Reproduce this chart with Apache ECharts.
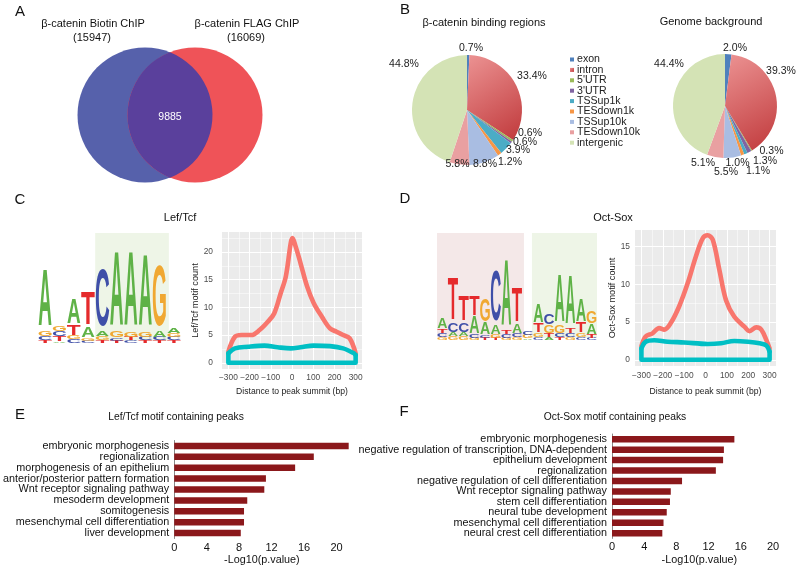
<!DOCTYPE html>
<html lang="en" style="height: 100%">
<head>
  <meta charset="utf-8">
  <style>
    body { margin: 0; background: #fff; }
  </style>
</head>
<body style="height: 100%; margin: 0">
  <div id="container" style="width: 800px; height: 570px"></div>

  <script type="text/javascript" src="https://cdn.jsdelivr.net/npm/echarts@6/dist/echarts.min.js"></script>
  <script type="text/javascript">
// ---- data ----
const vennNames = ['β-catenin Biotin ChIP', 'β-catenin FLAG ChIP'];
const vennCounts = [15947, 16069];
const vennOverlap = 9885;

const regionNames = ['exon', 'intron', "5'UTR", "3'UTR", 'TSSup1k', 'TESdown1k', 'TSSup10k', 'TESdown10k', 'intergenic'];
const bindingPct = [0.7, 33.4, 0.6, 0.6, 3.9, 1.2, 8.8, 5.8, 44.8];
const genomePct = [2.0, 39.3, 0.3, 1.3, 1.1, 1.0, 5.5, 5.1, 44.4];

// sequence logos, each column bottom -> top, heights in bits
const lefTcfLogo = [
  [['T', 0.04], ['C', 0.08], ['G', 0.1], ['A', 1.05]],
  [['A', 0.02], ['T', 0.1], ['C', 0.09], ['G', 0.09]],
  [['C', 0.06], ['G', 0.06], ['T', 0.2], ['A', 0.46]],
  [['C', 0.04], ['G', 0.05], ['A', 0.2], ['T', 0.6]],
  [['T', 0.04], ['G', 0.08], ['A', 0.1], ['C', 1.05]],
  [['T', 0.04], ['C', 0.05], ['G', 0.12], ['A', 1.36]],
  [['C', 0.04], ['T', 0.06], ['G', 0.1], ['A', 1.36]],
  [['T', 0.04], ['C', 0.06], ['G', 0.1], ['A', 1.31]],
  [['T', 0.04], ['C', 0.06], ['A', 0.12], ['G', 1.12]],
  [['T', 0.04], ['C', 0.06], ['G', 0.08], ['A', 0.1]]
];
const octSoxLogo = [
  [['G', 0.05], ['C', 0.08], ['T', 0.08], ['A', 0.2]],
  [['G', 0.06], ['A', 0.08], ['C', 0.18], ['T', 0.8]],
  [['G', 0.06], ['A', 0.08], ['C', 0.18], ['T', 0.47]],
  [['G', 0.04], ['C', 0.06], ['A', 0.32], ['T', 0.38]],
  [['T', 0.04], ['C', 0.05], ['A', 0.22], ['G', 0.42]],
  [['T', 0.04], ['G', 0.06], ['A', 0.18], ['C', 0.95]],
  [['G', 0.04], ['C', 0.06], ['T', 0.08], ['A', 1.25]],
  [['G', 0.04], ['C', 0.07], ['A', 0.18], ['T', 0.65]],
  [['A', 0.03], ['G', 0.06], ['C', 0.08]],
  [['C', 0.05], ['G', 0.08], ['T', 0.18], ['A', 0.35]],
  [['A', 0.04], ['T', 0.08], ['G', 0.15], ['C', 0.2]],
  [['T', 0.04], ['C', 0.08], ['G', 0.14], ['A', 0.9]],
  [['G', 0.04], ['C', 0.08], ['T', 0.1], ['A', 0.93]],
  [['C', 0.05], ['G', 0.08], ['T', 0.19], ['A', 0.42]],
  [['C', 0.04], ['T', 0.06], ['A', 0.2], ['G', 0.22]]
];
// shaded boxes behind the logos: [from position, to position]
const lefTcfBoxes = [[4.5, 9.65]];
const octSoxBoxes = [[0.5, 8.65], [9.4, 15.5]];

// motif count profiles (distance to summit, count)
const lefX = [-300, -269, -238, -192, -153, -114, -84, -53, -29, -6, 2, 17, 40, 71, 102, 141, 179, 210, 241, 272, 300];
const lefFg = [2.0, 4.7, 5.0, 5.0, 5.9, 7.4, 8.9, 12.6, 15.6, 21.6, 22.5, 21.0, 18.0, 13.8, 10.8, 8.3, 6.2, 5.6, 5.0, 4.4, 1.7];
const lefBgX = [-300, -269, -207, -130, -68, -6, 40, 102, 179, 241, 288, 300];
const lefBg = [1.7, 2.6, 2.9, 3.1, 2.8, 2.6, 2.8, 3.1, 3.0, 2.6, 1.8, 1.4];

const octX = [-300, -280, -248, -217, -193, -162, -123, -84, -45, -13, 10, 34, 65, 96, 135, 182, 206, 238, 261, 285, 300];
const octFg = [1.8, 3.1, 3.5, 4.2, 4.0, 4.9, 7.1, 10.1, 13.7, 16.1, 16.5, 15.9, 11.9, 7.9, 5.7, 4.4, 3.8, 4.3, 4.0, 2.6, 1.5];
const octBgX = [-300, -280, -240, -178, -99, 10, 73, 135, 198, 253, 285, 300];
const octBg = [1.5, 2.4, 2.6, 2.4, 2.3, 2.1, 2.2, 2.5, 2.4, 2.2, 1.9, 1.1];

const distTicks = [-300, -200, -100, 0, 100, 200, 300];
const lefCountTicks = [0, 5, 10, 15, 20];
const octCountTicks = [0, 5, 10, 15];

// GO terms
const lefTerms = ['embryonic morphogenesis', 'regionalization', 'morphogenesis of an epithelium',
  'anterior/posterior pattern formation', 'Wnt receptor signaling pathway', 'mesoderm development',
  'somitogenesis', 'mesenchymal cell differentiation', 'liver development'];
const lefLogP = [21.5, 17.2, 14.9, 11.3, 11.1, 9.0, 8.6, 8.6, 8.2];
const octTerms = ['embryonic morphogenesis', 'negative regulation of transcription, DNA-dependent',
  'epithelium development', 'regionalization', 'negative regulation of cell differentiation',
  'Wnt receptor signaling pathway', 'stem cell differentiation', 'neural tube development',
  'mesenchymal cell differentiation', 'neural crest cell differentiation'];
const octLogP = [15.2, 13.9, 13.8, 12.9, 8.7, 7.3, 7.2, 6.8, 6.4, 6.25];
const logPTicks = [0, 4, 8, 12, 16, 20];

// ---- chart ----
var dom = document.getElementById('container');
var myChart = echarts.init(dom, null, { renderer: 'canvas' });

const FONT = '"Liberation Sans", Arial, sans-serif';
const regionColors = ['#4f81bd',
  new echarts.graphic.LinearGradient(0, 0, 1, 1, [{ offset: 0, color: '#ec9393' }, { offset: 1, color: '#c0393b' }]),
  '#9bbb59', '#8064a2', '#4bacc6', '#f79646', '#a9bde2', '#e9a0a1', '#d4e3b5'];
// where the percent labels sit, as pixel offsets from each pie's centre (Excel "best fit" look)
const bindingLabelOffsets = [[4, -61.5], [65, -34], [63, 23.5], [58, 32], [51, 40.5], [43, 52], [18, 54], [-9.5, 54], [-63, -46]];
const genomeLabelOffsets = [[10, -57.5], [56, -35], [46.5, 45.5], [40, 55], [33, 65], [12.5, 57.5], [1, 66], [-22, 57.5], [-56, -42]];
const letterColor = { A: '#5fb247', C: '#3f4fa8', G: '#f0a832', T: '#e52a2c' };
const letterInk = { A: 71, C: 66, G: 70, T: 59 };

function zip(xs, ys) { return xs.map((x, i) => [x, ys[i]]); }

function logoItems(cols) {
  const items = [];
  cols.forEach((col, i) => {
    let base = 0;
    col.forEach(([L, h]) => {
      items.push([i + 1, base, base + h, 'ACGT'.indexOf(L)]);
      base += h;
    });
  });
  return items;
}

function renderLetter(params, api) {
  const pos = api.value(0), y0 = api.value(1), y1 = api.value(2);
  const L = 'ACGT'[api.value(3)];
  const a = api.coord([pos - 0.5, y0]), b = api.coord([pos + 0.5, y1]);
  const w = (b[0] - a[0]) * 0.94, h = a[1] - b[1];
  if (h < 0.7) return null;
  return {
    type: 'text', x: (a[0] + b[0]) / 2, y: (a[1] + b[1]) / 2 + h * 0.015,
    scaleX: w / letterInk[L], scaleY: h / 72,
    style: {
      text: L, fill: letterColor[L], font: 'bold 100px ' + FONT,
      align: 'center', verticalAlign: 'middle', textAlign: 'center', textVerticalAlign: 'middle'
    }
  };
}

function renderBox(colors) {
  return function (params, api) {
    const a = api.coord([api.value(0), 0.04]), b = api.coord([api.value(1), 2]);
    return {
      type: 'rect', shape: { x: a[0], y: b[1], width: b[0] - a[0], height: a[1] - b[1] },
      style: { fill: colors[params.dataIndex] }
    };
  };
}

function mids(t) { const m = []; for (let i = 0; i < t.length - 1; i++) m.push((t[i] + t[i + 1]) / 2); return m; }

function gridLines(idx, xt, yt) {
  const major = { color: '#fff', width: 1.1, type: 'solid' };
  const minor = { color: '#fff', width: 0.5, type: 'solid' };
  const yMinor = mids(yt).concat([yt[yt.length - 1] + (yt[1] - yt[0]) / 2]);
  const data = []
    .concat(xt.map(v => ({ xAxis: v, lineStyle: major })))
    .concat(mids(xt).map(v => ({ xAxis: v, lineStyle: minor })))
    .concat(yt.map(v => ({ yAxis: v, lineStyle: major })))
    .concat(yMinor.map(v => ({ yAxis: v, lineStyle: minor })));
  return {
    type: 'line', xAxisIndex: idx, yAxisIndex: idx, data: [], z: 1, silent: true,
    markLine: { z: 1, silent: true, symbol: 'none', label: { show: false }, animation: false, data: data }
  };
}

function profileSeries(idx, xs, fg, bgx, bg) {
  const common = { type: 'line', xAxisIndex: idx, yAxisIndex: idx, symbol: 'none', silent: true };
  return [
    Object.assign({}, common, { data: zip(xs, fg), smooth: 0.35, z: 3,
      lineStyle: { color: '#f8766d', width: 4.6, cap: 'round', join: 'round' } }),
    Object.assign({}, common, { data: zip(bgx, bg), smooth: 0.35, z: 4,
      lineStyle: { color: '#00bfc4', width: 4.6, cap: 'round', join: 'round' } }),
    Object.assign({}, common, {
      data: [[bgx[0], bg[0]], [bgx[0], 0], [bgx[bgx.length - 1], 0], [bgx[bgx.length - 1], bg[bg.length - 1]]],
      z: 4, lineStyle: { color: '#00bfc4', width: 4.6, cap: 'round', join: 'round' } })
  ];
}

const minus = v => String(v).replace('-', '\u2212');
const ggTick = { color: '#4d4d4d', fontSize: 8.4, fontFamily: FONT };

function ggX(idx, name, gap, margin) {
  return {
    gridIndex: idx, type: 'value', min: -330, max: 330,
    name: name, nameLocation: 'middle', nameGap: gap,
    nameTextStyle: { fontSize: 8.6, color: '#222', fontFamily: FONT },
    axisLine: { show: false }, splitLine: { show: false },
    axisTick: { customValues: distTicks, length: 3, lineStyle: { color: '#333' } },
    axisLabel: Object.assign({ customValues: distTicks, formatter: minus, margin: margin }, ggTick)
  };
}
function ggY(idx, min, max, ticks, name, gap, margin) {
  return {
    gridIndex: idx, type: 'value', min: min, max: max,
    name: name, nameLocation: 'middle', nameGap: gap, nameRotate: 90,
    nameTextStyle: { fontSize: 9.2, color: '#222', fontFamily: FONT },
    axisLine: { show: false }, splitLine: { show: false },
    axisTick: { customValues: ticks, length: 3, lineStyle: { color: '#333' } },
    axisLabel: Object.assign({ customValues: ticks, margin: margin }, ggTick)
  };
}

function hidden(idx, min, max) {
  return { gridIndex: idx, type: 'value', min: min, max: max, show: false };
}

function barX(idx, max) {
  return {
    gridIndex: idx, type: 'value', min: 0, max: max,
    name: '-Log10(p.value)', nameLocation: 'middle', nameGap: 16,
    nameTextStyle: { fontSize: 10.8, color: '#111', fontFamily: FONT },
    axisLine: { lineStyle: { color: '#888' } }, splitLine: { show: false },
    axisTick: { customValues: logPTicks, length: 2, lineStyle: { color: '#888' } },
    axisLabel: { customValues: logPTicks, fontSize: 11, color: '#111', margin: 3.5, fontFamily: FONT }
  };
}
function barY(idx, terms) {
  return {
    gridIndex: idx, type: 'category', data: terms, inverse: true,
    axisLine: { lineStyle: { color: '#888' } },
    axisTick: { length: 3, interval: 0, lineStyle: { color: '#888' } },
    axisLabel: { interval: 0, fontSize: 10.8, color: '#111', margin: 5, fontFamily: FONT }
  };
}

function label(text, x, y, size, extra) {
  return Object.assign({
    type: 'text', x: x, y: y, silent: true,
    style: {
      text: text, font: size + 'px ' + FONT, fill: '#111',
      align: 'center', verticalAlign: 'middle', textAlign: 'center', textVerticalAlign: 'middle'
    }
  }, extra || {});
}

function pieSeries(name, center, radius, values, offsets) {
  return {
    type: 'pie', name: name, center: center, radius: radius, startAngle: 90, clockwise: true,
    avoidLabelOverlap: false,
    data: regionNames.map((n, i) => ({ name: n, value: values[i], itemStyle: { color: regionColors[i] } })),
    label: {
      position: 'outside', fontSize: 10.5, color: '#222', fontFamily: FONT, overflow: 'none',
      formatter: p => p.value.toFixed(1) + '%'
    },
    labelLine: { show: false },
    labelLayout: p => ({
      x: center[0] + offsets[p.dataIndex][0], y: center[1] + offsets[p.dataIndex][1],
      align: 'center', verticalAlign: 'middle', width: 40
    }),
    emphasis: { disabled: true }, silent: true
  };
}

option = {
  animation: false,
  textStyle: { fontFamily: FONT },
  grid: [
    { left: 60, top: 40, width: 220, height: 150, show: false },           // venn
    { left: 38, top: 233, width: 143, height: 110, show: false },          // logo C
    { left: 222, top: 232, width: 140, height: 137, show: true, backgroundColor: '#ebebeb', borderWidth: 0 },
    { left: 437, top: 233, width: 160, height: 107, show: false },         // logo D
    { left: 635, top: 230, width: 141, height: 136, show: true, backgroundColor: '#ebebeb', borderWidth: 0 },
    { left: 173, top: 440.5, width: 176.5, height: 98 },                  // bars E
    { left: 612, top: 434, width: 174.7, height: 104.4 }                   // bars F
  ],
  xAxis: [
    hidden(0, -110, 110),
    hidden(1, 0.5, lefTcfLogo.length + 0.5),
    ggX(2, 'Distance to peak summit (bp)', 18, 5),
    hidden(3, 0.5, octSoxLogo.length + 0.5),
    ggX(4, 'Distance to peak summit (bp)', 21, 6),
    barX(5, 21.6),
    barX(6, 21.7)
  ],
  yAxis: [
    hidden(0, -75, 75),
    hidden(1, 0, 2),
    ggY(2, -1.125, 23.6, lefCountTicks, 'Lef/Tcf motif count', 20, 9),
    hidden(3, 0, 2),
    ggY(4, -0.82, 17.2, octCountTicks, 'Oct-Sox motif count', 15, 5),
    barY(5, lefTerms),
    barY(6, octTerms)
  ],
  legend: {
    data: regionNames, orient: 'vertical', left: 570, top: 54, padding: 0,
    icon: 'rect', itemWidth: 4, itemHeight: 4, itemGap: -0.6,
    textStyle: { fontSize: 10.6, lineHeight: 9.8, color: '#222', fontFamily: FONT, padding: [0, 0, 0, -2] },
    selectedMode: false
  },
  graphic: [
    label('A', 20, 12, 15), label('B', 405, 10, 15),
    label('C', 20, 200, 15), label('D', 405, 199, 15),
    label('E', 20, 415, 15), label('F', 404, 412, 15),
    label(vennNames[0], 93, 24, 11), label('(' + vennCounts[0] + ')', 92, 38, 11),
    label(vennNames[1], 247, 24, 11), label('(' + vennCounts[1] + ')', 246, 38, 11),
    label('β-catenin binding regions', 484, 23, 11),
    label('Genome background', 711, 22, 11),
    label('Lef/Tcf', 180, 218, 11), label('Oct-Sox', 613, 218, 11),
    label('Lef/Tcf motif containing peaks', 176, 417, 10.3),
    label('Oct-Sox motif containing peaks', 615, 417, 10.3)
  ],
  series: [
    // Venn circles
    {
      type: 'custom', xAxisIndex: 0, yAxisIndex: 0, silent: true, z: 2,
      data: vennCounts.map((c, i) => [i === 0 ? -25 : 25, 0, c]),
      renderItem: function (params, api) {
        const c = api.coord([api.value(0), api.value(1)]);
        const r = api.size([67.5, 0])[0];
        return { type: 'circle', shape: { cx: c[0], cy: c[1], r: r },
          style: { fill: params.dataIndex === 0 ? '#5661ab' : '#ef5358' } };
      }
    },
    // Venn overlap
    {
      type: 'custom', xAxisIndex: 0, yAxisIndex: 0, silent: true, z: 3,
      data: [[0, 0, vennOverlap]],
      renderItem: function (params, api) {
        const a = api.coord([-25, 0]), b = api.coord([25, 0]);
        const r = api.size([67.5, 0])[0];
        const d = b[0] - a[0], h = Math.sqrt(r * r - d * d / 4);
        const mx = (a[0] + b[0]) / 2, cy = a[1];
        const path = 'M' + mx + ' ' + (cy - h) + ' A' + r + ' ' + r + ' 0 0 1 ' + mx + ' ' + (cy + h) +
          ' A' + r + ' ' + r + ' 0 0 1 ' + mx + ' ' + (cy - h) + ' Z';
        return { type: 'group', children: [
          { type: 'path', shape: { pathData: path }, style: { fill: '#5a409c' } },
          { type: 'text', x: mx, y: cy + 2, style: { text: String(api.value(2)), fill: '#fff',
            font: '10.5px ' + FONT, align: 'center', verticalAlign: 'middle',
            textAlign: 'center', textVerticalAlign: 'middle' } }
        ] };
      }
    },
    // pies
    pieSeries('binding', [467, 110], 55, bindingPct, bindingLabelOffsets),
    pieSeries('genome', [725, 106], 52, genomePct, genomeLabelOffsets),
    // logo C
    { type: 'custom', xAxisIndex: 1, yAxisIndex: 1, silent: true, z: 1,
      data: lefTcfBoxes, renderItem: renderBox(['#eef5e7']) },
    { type: 'custom', xAxisIndex: 1, yAxisIndex: 1, silent: true, z: 2,
      encode: { x: 0, y: [1, 2] }, data: logoItems(lefTcfLogo), renderItem: renderLetter },
    // profile C
    gridLines(2, distTicks, lefCountTicks),
    ...profileSeries(2, lefX, lefFg, lefBgX, lefBg),
    // logo D
    { type: 'custom', xAxisIndex: 3, yAxisIndex: 3, silent: true, z: 1,
      data: octSoxBoxes, renderItem: renderBox(['#f4e8e8', '#eef5e7']) },
    { type: 'custom', xAxisIndex: 3, yAxisIndex: 3, silent: true, z: 2,
      encode: { x: 0, y: [1, 2] }, data: logoItems(octSoxLogo), renderItem: renderLetter },
    // profile D
    gridLines(4, distTicks, octCountTicks),
    ...profileSeries(4, octX, octFg, octBgX, octBg),
    // GO bars
    { type: 'bar', xAxisIndex: 5, yAxisIndex: 5, data: lefLogP, barWidth: 6.5,
      itemStyle: { color: '#8b181b' }, silent: true },
    { type: 'bar', xAxisIndex: 6, yAxisIndex: 6, data: octLogP, barWidth: 6.5,
      itemStyle: { color: '#8b181b' }, silent: true }
  ]
};

myChart.setOption(option);
window.addEventListener('resize', myChart.resize);
  </script>
</body>
</html>
